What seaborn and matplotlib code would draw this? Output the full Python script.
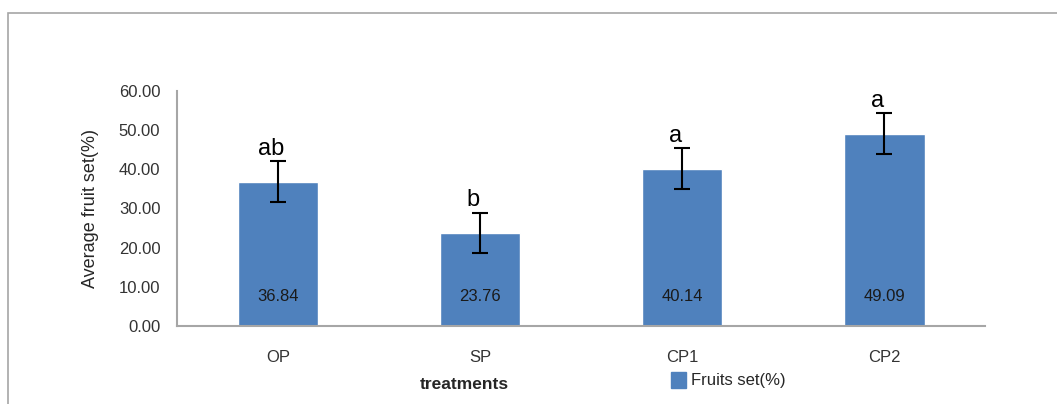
import matplotlib
matplotlib.use("Agg")
import matplotlib.pyplot as plt
import matplotlib.patches as mpatches
import seaborn as sns
import pandas as pd

# --- data ---
treatments = ["OP", "SP", "CP1", "CP2"]
fruit_set = [36.84, 23.76, 40.14, 49.09]
errors = [5.2, 5.2, 5.2, 5.2]
letters = ["ab", "b", "a", "a"]

df = pd.DataFrame({"treatment": treatments, "fruit_set": fruit_set})

bar_color = "#4F81BD"
grey = "#A6A6A6"

sns.set_style("white")
plt.rcParams["font.family"] = ["Liberation Sans", "DejaVu Sans"]

fig = plt.figure(figsize=(10.57, 4.04), dpi=100)
ax = fig.add_axes([0.1675, 0.193, 0.7645, 0.582])

# outer frame (chart area border)
fig.patches.append(mpatches.Rectangle((8 / 1057, -0.05), 1.2, (404 - 13) / 404 + 0.05,
                                      transform=fig.transFigure, fill=False,
                                      edgecolor=grey, linewidth=1.2))

sns.barplot(data=df, x="treatment", y="fruit_set", color=bar_color,
            saturation=1, width=0.4, ax=ax)
ax.errorbar(range(len(treatments)), fruit_set, yerr=errors, fmt="none",
            ecolor="black", elinewidth=1.5, capsize=6, capthick=1.5)

for i, (v, e, lab) in enumerate(zip(fruit_set, errors, letters)):
    ax.annotate(lab, (i, v + e), xytext=(-5, 1), textcoords="offset points",
                ha="center", va="bottom", fontsize=17, color="black")
    ax.text(i, 7.5, f"{v:.2f}", ha="center", va="center", fontsize=12, color="#1a1a1a")

ax.set_xlim(-0.5, 3.5)
ax.set_ylim(0, 60)
ax.set_yticks(range(0, 61, 10))
ax.set_yticklabels([f"{t:.2f}" for t in range(0, 61, 10)])
ax.tick_params(axis="y", length=4, color=grey, labelsize=12, labelcolor="#333333", pad=8)
ax.tick_params(axis="x", length=0, labelsize=12, labelcolor="#333333", pad=17)

for side in ["top", "right"]:
    ax.spines[side].set_visible(False)
for side in ["left", "bottom"]:
    ax.spines[side].set_color(grey)
    ax.spines[side].set_linewidth(1.5)

ax.set_xlabel("treatments", fontsize=12.5, fontweight="bold")
ax.xaxis.set_label_coords(0.356, -0.215)
ax.set_ylabel("Average fruit set(%)", fontsize=13, labelpad=14)

handle = mpatches.Patch(color=bar_color, label="Fruits set(%)")
fig.legend(handles=[handle], loc="center left", bbox_to_anchor=(664 / 1057, 1 - 380 / 404),
           frameon=False, fontsize=12, handlelength=0.9, handleheight=1.1,
           handletextpad=0.3, borderaxespad=0)

plt.savefig("out.png", dpi=100)
